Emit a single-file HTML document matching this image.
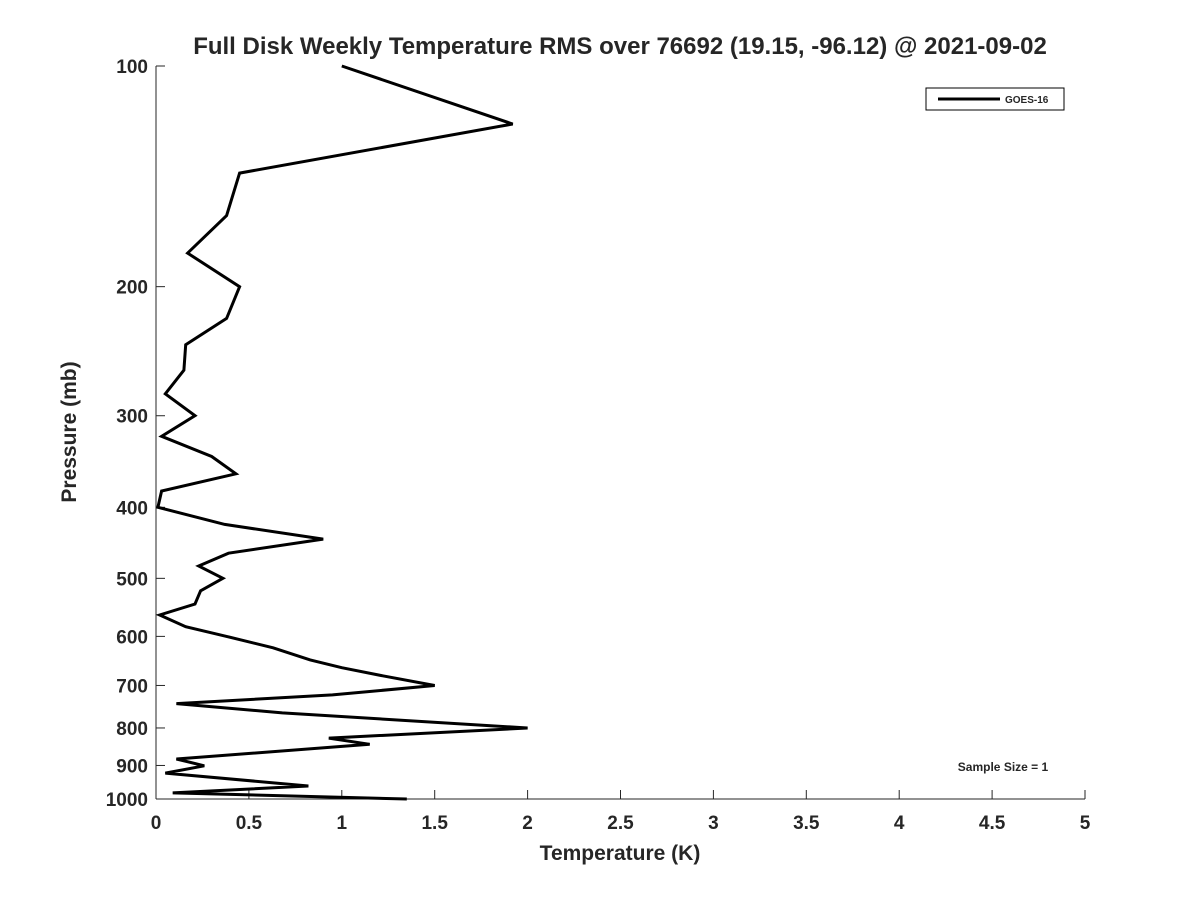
<!DOCTYPE html>
<html><head><meta charset="utf-8"><style>
body{margin:0;background:#fff;}
svg text{font-family:"Liberation Sans","DejaVu Sans",sans-serif;font-weight:bold;fill:#262626;}
</style></head><body>
<svg id="chart" width="1200" height="900" xmlns="http://www.w3.org/2000/svg">
<rect width="1200" height="900" fill="#fff"/>
<text x="620" y="54" font-size="24" text-anchor="middle" fill="#000">Full Disk Weekly Temperature RMS over 76692 (19.15, -96.12) @ 2021-09-02</text>
<g id="axes"></g>
<text transform="translate(76,432) rotate(-90)" font-size="21" text-anchor="middle">Pressure (mb)</text>
<text x="620" y="860" font-size="21" text-anchor="middle">Temperature (K)</text>
<g>
<rect x="926" y="88" width="138" height="22" fill="#fff" stroke="#000" stroke-width="1"/>
<line x1="938" y1="99" x2="1000" y2="99" stroke="#000" stroke-width="3"/>
<text x="1005" y="103" font-size="10" fill="#000">GOES-16</text>
</g>
<text x="1003" y="771" font-size="12" text-anchor="middle" fill="#000">Sample Size = 1</text>
<g id="series"></g>
</svg>
<script>
const pressures=[100,120,140,160,180,200,221,240,260,280,300,320,341,360,380,400,422,442,462,481,500,520,542,561,582,600,622,646,662,679,700,721,741,763,800,826,842,882,901,922,960,981,1000];
const temps=[1.0,1.92,0.45,0.38,0.17,0.45,0.38,0.16,0.15,0.05,0.21,0.03,0.30,0.43,0.03,0.01,0.37,0.90,0.39,0.23,0.36,0.24,0.21,0.02,0.16,0.38,0.63,0.83,1.0,1.22,1.5,0.95,0.11,0.68,2.0,0.93,1.15,0.11,0.26,0.05,0.82,0.09,1.35];
const xTicks=[0,0.5,1,1.5,2,2.5,3,3.5,4,4.5,5];
const xTickLabels=["0","0.5","1","1.5","2","2.5","3","3.5","4","4.5","5"];
const yTicks=[100,200,300,400,500,600,700,800,900,1000];
const NS="http://www.w3.org/2000/svg";
const X0=156,X1=1085,Y0=66,Y1=799;
function xs(t){return X0+(t-0)/(5-0)*(X1-X0);}
function ys(p){return Y0+(Math.log10(p)-2)/(3-2)*(Y1-Y0);}
const axes=document.getElementById('axes');
function mk(tag,attrs,parent){const e=document.createElementNS(NS,tag);for(const k in attrs)e.setAttribute(k,attrs[k]);parent.appendChild(e);return e;}
let l=mk('line',{x1:X0,y1:Y0,x2:X0,y2:Y1,stroke:'#262626','stroke-width':1},axes);


l=mk('line',{x1:X0,y1:Y1,x2:X1,y2:Y1,stroke:'#262626','stroke-width':1},axes);


xTicks.forEach((t,i)=>{
  const x=xs(t);
  const tk=mk('line',{x1:x,y1:Y1,x2:x,y2:Y1-9,stroke:'#262626','stroke-width':1},axes);
  
  
  const tx=mk('text',{x:x,y:Y1+30,'font-size':19,'text-anchor':'middle'},axes);
  tx.textContent=xTickLabels[i];
  
  
});
yTicks.forEach(p=>{
  const y=ys(p);
  const tk=mk('line',{x1:X0,y1:y,x2:X0+9,y2:y,stroke:'#262626','stroke-width':1},axes);
  
  
  const tx=mk('text',{x:X0-8,y:y+7,'font-size':19,'text-anchor':'end'},axes);
  tx.textContent=String(p);
  
  
});
const series=document.getElementById('series');
const pts=pressures.map((p,i)=>xs(temps[i]).toFixed(1)+','+ys(p).toFixed(1)).join(' ');
const pl=mk('polyline',{points:pts,fill:'none',stroke:'#000','stroke-width':3,'stroke-linejoin':'miter'},series);


</script>
</body></html>
